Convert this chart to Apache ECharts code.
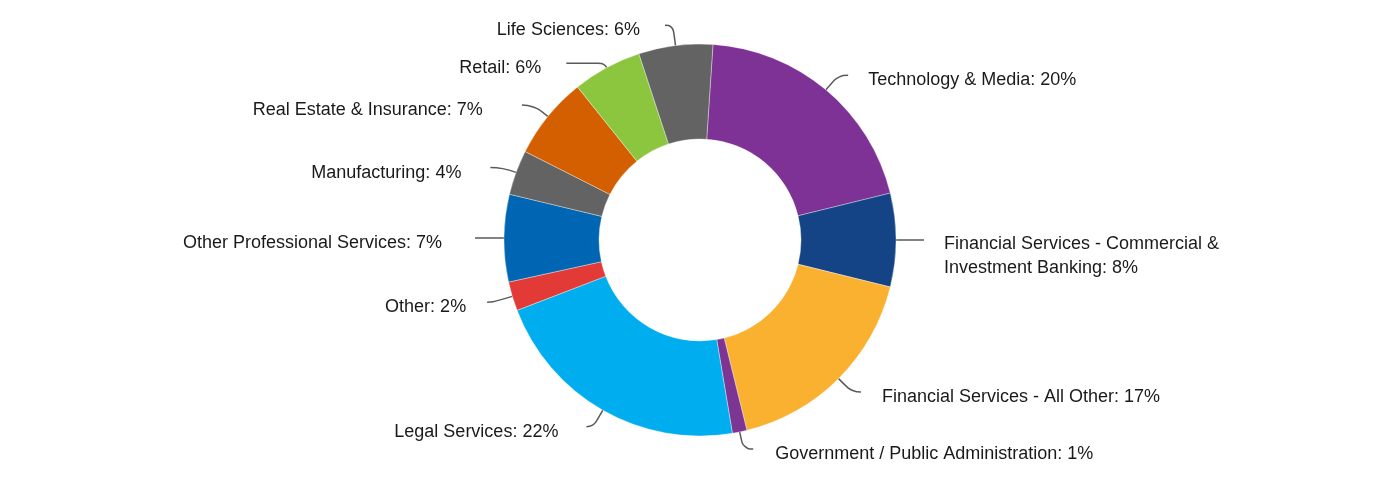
<!DOCTYPE html>
<html>
<head>
<meta charset="utf-8">
<script src="https://cdn.jsdelivr.net/npm/echarts@6/dist/echarts.min.js"></script>
<style>
html,body{margin:0;padding:0;background:#fff;}
#chart{width:1400px;height:480px;}
</style>
</head>
<body>
<div id="chart"></div>
<script>
var categories = [
  'Technology & Media',
  'Financial Services - Commercial &\nInvestment Banking',
  'Financial Services - All Other',
  'Government / Public Administration',
  'Legal Services',
  'Other',
  'Other Professional Services',
  'Manufacturing',
  'Real Estate & Insurance',
  'Retail',
  'Life Sciences'
];
var values = [20.1, 7.7, 17.3, 1.2, 21.8, 2.4, 7.2, 3.7, 6.8, 5.7, 6.1];
var colors = ['#7f3296', '#154486', '#fbb130', '#7c3592', '#00adef', '#e23a36', '#0066b3', '#636363', '#d35f00', '#8cc63f', '#636363'];

// label-line styling per slice (first segment, horizontal segment, gap to text)
var lineLen1 = [19, 14, 19, 17.5, 19, 20, 15, 14, 18, 5, 20.5];
var lineLen2 = [10, 14, 9, 10, 7, 6, 14, 12.5, 12, 38, 8];
var labelGaps = [20, 20, 21, 22, 28, 21, 33, 29, 39, 25, 25];

var data = categories.map(function (c, i) {
  return {
    name: c,
    value: values[i],
    itemStyle: { color: colors[i] },
    label: { distanceToLabelLine: labelGaps[i] },
    labelLine: { length: lineLen1[i], length2: lineLen2[i] }
  };
});

var txt = { fontFamily: 'Liberation Sans, Arial, sans-serif', fontSize: 18, lineHeight: 24, color: '#1a1a1a' };

var chart = echarts.init(document.getElementById('chart'));
chart.setOption({
  animation: false,
  series: [{
    type: 'pie',
    center: [700, 240],
    radius: [101, 196],
    startAngle: 86.2,
    clockwise: true,
    avoidLabelOverlap: false,
    data: data,
    itemStyle: { borderColor: 'rgba(255,255,255,0.6)', borderWidth: 0.6 },
    label: Object.assign({
      show: true,
      formatter: function (p) {
        var lines = (p.name + ': ' + Math.round(p.percent) + '%').split('\n');
        if (lines.length === 1) return '{s|' + lines[0] + '}';
        return '{e| }\n{t|' + lines.join('}\n{t|') + '}';
      },
      rich: {
        s: Object.assign({}, txt, { padding: [10, 0, 0, 0] }),
        t: Object.assign({}, txt),
        e: { fontSize: 1, lineHeight: 32 }
      }
    }, txt),
    labelLine: {
      show: true,
      smooth: 0.5,
      lineStyle: { color: '#5a5a5a', width: 1.5 }
    }
  }]
});
</script>
</body>
</html>
